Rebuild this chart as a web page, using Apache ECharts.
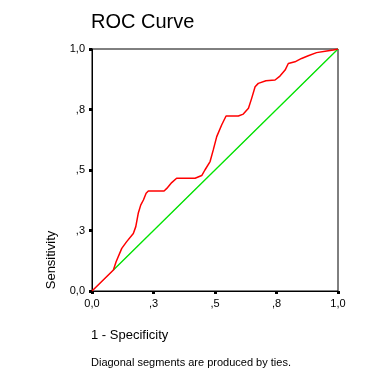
<!DOCTYPE html>
<html><head><meta charset="utf-8">
<script src="https://cdn.jsdelivr.net/npm/echarts@6/dist/echarts.min.js"></script>
<style>html,body{margin:0;padding:0;background:#fff}#c{width:381px;height:380px}</style>
</head><body><div id="c"></div>
<script>
var titleText = "ROC Curve";
var xAxisName = "1 - Specificity";
var yAxisName = "Sensitivity";
var footnote = "Diagonal segments are produced by ties.";
var tickValues = [0, 0.25, 0.5, 0.75, 1];
var tickLabels = ["0,0", ",3", ",5", ",8", "1,0"];
// ROC curve: [1 - specificity, sensitivity]
var rocX = [0,0.087,0.098,0.121,0.141,0.168,0.178,0.188,0.198,0.209,0.22,0.229,0.293,0.304,0.324,0.344,0.419,0.446,0.459,0.48,0.493,0.507,0.527,0.545,0.595,0.615,0.636,0.649,0.663,0.676,0.707,0.744,0.764,0.785,0.798,0.825,0.852,0.879,0.913,0.954,0.981,1];
var rocY = [0,0.087,0.121,0.176,0.204,0.238,0.266,0.321,0.355,0.376,0.404,0.413,0.413,0.424,0.448,0.466,0.466,0.477,0.5,0.535,0.583,0.638,0.686,0.723,0.723,0.731,0.755,0.796,0.844,0.858,0.869,0.872,0.888,0.913,0.94,0.947,0.961,0.972,0.985,0.992,0.996,1];
// reference diagonal
var refX = [0, 1];
var refY = [0, 1];
// tie segment (green)
var tieX = [0.087, 1];
var tieY = [0.087, 1];

function pairs(xs, ys){ return xs.map(function(v,i){ return [v, ys[i]]; }); }
function fmt(v){ for (var i=0;i<tickValues.length;i++){ if (Math.abs(v-tickValues[i])<1e-9) return tickLabels[i]; } return ""; }

var font = "Arial, 'Liberation Sans', sans-serif";
var chart = echarts.init(document.getElementById('c'), null, {renderer:'canvas'});
var axisCommon = {
  type:'value', min:0, max:1, interval:0.25,
  axisLine:{show:true, onZero:false, lineStyle:{color:'#000', width:1}},
  axisTick:{show:true, length:3, inside:false, lineStyle:{color:'#000', width:3}},
  splitLine:{show:false},
  axisLabel:{color:'#000', fontFamily:font, fontSize:11, formatter:fmt}
};
chart.setOption({
  animation:false,
  backgroundColor:'#fff',
  grid:{left:92, right:43, top:49, bottom:89, show:true, borderColor:'#000', borderWidth:1, backgroundColor:'#fff'},
  xAxis: Object.assign({}, axisCommon, {axisLabel:Object.assign({}, axisCommon.axisLabel, {margin:7})}),
  yAxis: Object.assign({}, axisCommon, {axisLabel:Object.assign({}, axisCommon.axisLabel, {margin:7})}),
  series:[
    {type:'line', data:pairs(refX, refY), symbol:'none', lineStyle:{color:'#a0a0a0', width:1}, z:1},
    {type:'line', data:pairs(tieX, tieY), symbol:'none', lineStyle:{color:'#00e600', width:1.3}, z:2},
    {type:'line', data:pairs(rocX, rocY), symbol:'none', lineStyle:{color:'#ff0000', width:1.5}, z:3}
  ],
  graphic:[
    {type:'text', left:91, top:12, style:{text:titleText, fill:'#000', font:'20px ' + font}},
    {type:'text', x:51, y:260, rotation:Math.PI/2, style:{text:yAxisName, fill:'#000', font:'13px ' + font, align:'center', verticalAlign:'middle'}},
    {type:'text', left:91, top:329, style:{text:xAxisName, fill:'#000', font:'13px ' + font}},
    {type:'text', left:91, top:357, style:{text:footnote, fill:'#000', font:'11px ' + font}}
  ]
});
</script></body></html>
